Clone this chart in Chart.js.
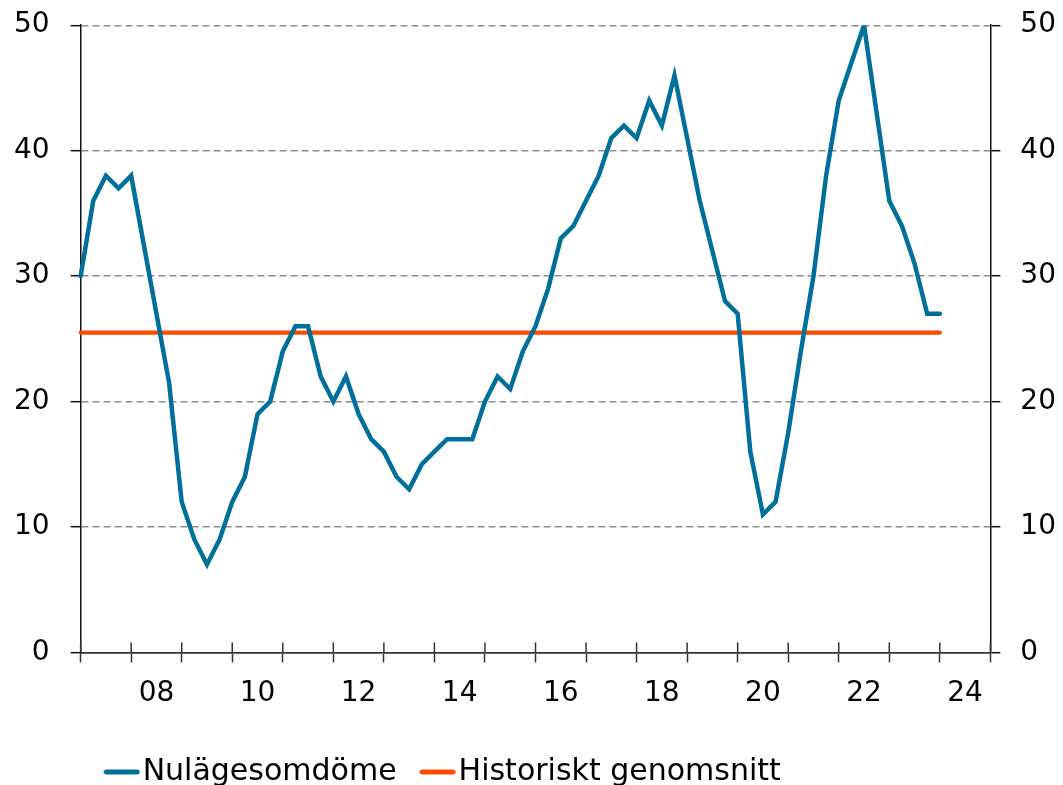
<!DOCTYPE html>
<html>
<head>
<meta charset="utf-8">
<script src="https://cdn.jsdelivr.net/npm/chart.js@4.4.1/dist/chart.umd.min.js"></script>
<style>
  body { margin: 0; background: #fff; overflow: hidden; }
  #wrap { width: 1063px; height: 785px; }
</style>
</head>
<body>
<div id="wrap"><canvas id="myChart"></canvas></div>
<script>
// kvartal 2007 K1 .. 2025 K1 (axis runs to start of 2025)
const categories = [];
for (let year = 2007; year <= 2025; year++) {
    for (let q = 1; q <= 4; q++) {
        if (year === 2025 && q > 1) break;
        categories.push(year + ' K' + q);
    }
}
const nulage = [30, 36, 38, 37, 38, 32.5, 27, 21.5, 12, 9,
    7, 9, 12, 14, 19, 20, 24, 26, 26, 22,
    20, 22, 19, 17, 16, 14, 13, 15, 16, 17,
    17, 17, 20, 22, 21, 24, 26, 29, 33, 34,
    36, 38, 41, 42, 41, 44, 42, 46, 41, 36,
    32, 28, 27, 16, 11, 12, 17.5, 24, 30, 38,
    44, 47, 50, 43, 36, 34, 31, 27, 27];
const snittVarde = 25.5;
const snitt = nulage.map(() => snittVarde);
const yTicks = [0, 10, 20, 30, 40, 50];

const blue = 'rgb(0, 112, 155)';
const orange = 'rgb(252, 76, 2)';

Chart.defaults.font.family = "'DejaVu Sans', Verdana, sans-serif";
Chart.defaults.font.size = 28;
Chart.defaults.color = '#000';

function legendLine(color) {
    const c = document.createElement('canvas');
    c.width = 60;
    c.height = 10;
    const g = c.getContext('2d');
    g.strokeStyle = color;
    g.lineWidth = 5;
    g.lineCap = 'round';
    g.beginPath();
    g.moveTo(16.5, 5);
    g.lineTo(47.5, 5);
    g.stroke();
    return c;
}

// the x tick marks cross the axis: draw the inner half
const innerTicks = {
    id: 'innerTicks',
    afterDraw(chart) {
        const ctx = chart.ctx;
        const xs = chart.scales.x;
        const bottom = chart.chartArea.bottom;
        ctx.save();
        ctx.strokeStyle = '#333';
        ctx.lineWidth = 1.5;
        categories.forEach((c, i) => {
            if (!c.endsWith('K1')) return;
            const px = xs.getPixelForValue(i);
            ctx.beginPath();
            ctx.moveTo(px, bottom - 10);
            ctx.lineTo(px, bottom);
            ctx.stroke();
        });
        ctx.restore();
    }
};

const yScale = (position, showGrid) => ({
    type: 'linear',
    position: position,
    min: 0,
    max: 50,
    afterBuildTicks: (axis) => { axis.ticks = yTicks.map(v => ({ value: v })); },
    ticks: {
        padding: position === 'left' ? 21 : 20,
        color: '#000',
        font: { size: 28, lineHeight: 0.3 }
    },
    grid: {
        display: true,
        drawOnChartArea: showGrid,
        color: (ctx) => ctx.tick && ctx.tick.value === 0 ? 'transparent' : '#8c8c8c',
        lineWidth: 1.4,
        tickLength: 10,
        tickColor: '#111',
        tickWidth: 1.5
    },
    border: { display: true, color: '#111', width: 1.5, dash: [7, 4] }
});

const data = {
    labels: categories,
    datasets: [{
        label: 'Nulägesomdöme',
        data: nulage,
        borderColor: blue,
        backgroundColor: blue,
        borderWidth: 4.5,
        borderCapStyle: 'round',
        borderJoinStyle: 'miter',
        pointRadius: 0,
        pointHoverRadius: 0,
        pointStyle: legendLine(blue),
        tension: 0,
        order: 1
    }, {
        label: 'Historiskt genomsnitt',
        data: snitt,
        borderColor: orange,
        backgroundColor: orange,
        borderWidth: 4.2,
        borderCapStyle: 'round',
        pointRadius: 0,
        pointHoverRadius: 0,
        pointStyle: legendLine(orange),
        order: 2
    }]
};

const config = {
    type: 'line',
    data: data,
    options: {
        responsive: true,
        maintainAspectRatio: false,
        animation: false,
        events: [],
        layout: { padding: { left: -7, right: -13, top: 13, bottom: -12 } },
        scales: {
            x: {
                type: 'category',
                offset: false,
                ticks: {
                    autoSkip: false,
                    maxRotation: 0,
                    minRotation: 0,
                    padding: 15,
                    color: '#000',
                    callback: function(value, index) {
                        const c = categories[index];
                        const year = parseInt(c.slice(0, 4));
                        if (c.endsWith('K3') && year % 2 === 0) return String(year).slice(2);
                        return '';
                    }
                },
                grid: {
                    drawOnChartArea: false,
                    tickLength: 10,
                    tickWidth: 1.5,
                    tickColor: (ctx) => ctx.tick && categories[ctx.index] && categories[ctx.index].endsWith('K1') ? '#333' : 'transparent'
                },
                border: { display: true, color: '#333', width: 1.8 }
            },
            y: yScale('left', true),
            y2: yScale('right', false)
        },
        plugins: {
            legend: {
                position: 'bottom',
                align: 'start',
                fullSize: false,
                labels: {
                    usePointStyle: true,
                    pointStyleWidth: 16,
                    boxHeight: 10,
                    padding: 31,
                    color: '#000',
                    font: { size: 30 }
                }
            },
            tooltip: { enabled: false }
        }
    },
    plugins: [innerTicks]
};

const myChart = new Chart(
    document.getElementById('myChart'),
    config
);
</script>
</body>
</html>
